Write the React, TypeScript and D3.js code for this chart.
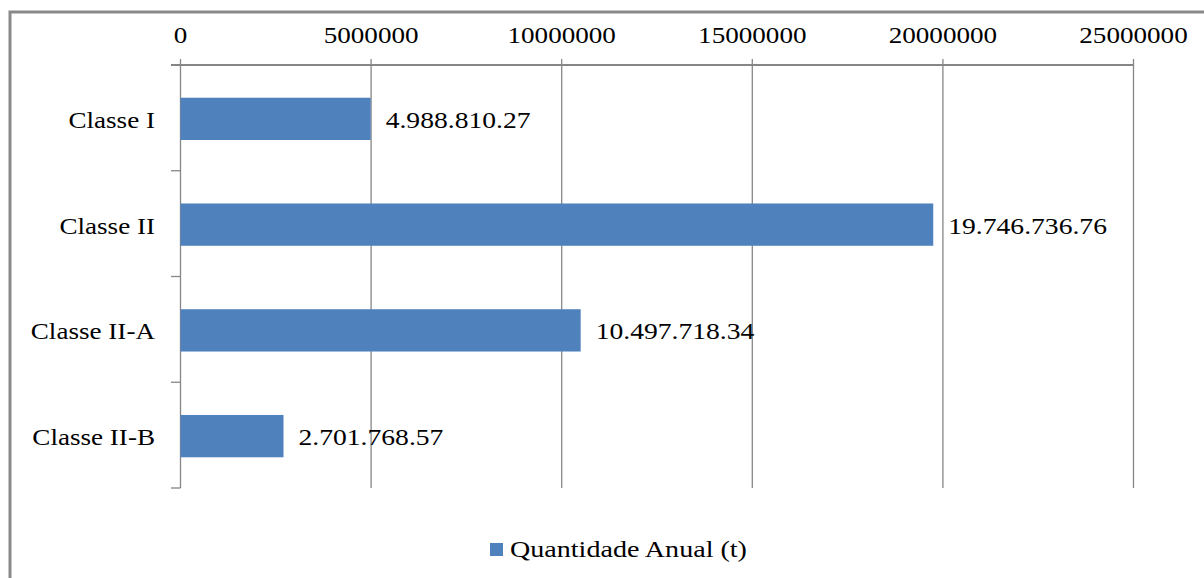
import React from "react";
import * as d3 from "d3";

const categories = ["Classe I", "Classe II", "Classe II-A", "Classe II-B"];
const values = [4988810.27, 19746736.76, 10497718.34, 2701768.57];
const valueLabels = ["4.988.810.27", "19.746.736.76", "10.497.718.34", "2.701.768.57"];
const xTicks = [0, 5000000, 10000000, 15000000, 20000000, 25000000];
const seriesName = "Quantidade Anual (t)";

function T({ x, y, anchor, sx = 1.13, children }: { x: number; y: number; anchor?: string; sx?: number; children: React.ReactNode }) {
  return (
    <text
      transform={`translate(${x},${y}) scale(${sx},1)`}
      textAnchor={anchor || "start"}
      style={{ fontFamily: '"Liberation Serif", "Times New Roman", serif', fontSize: 24 }}
      fill="#000"
    >
      {children}
    </text>
  );
}

export default function App() {
  const W = 1204, H = 578;
  const left = 180.5, right = 1133.5, top = 65, bottom = 488;
  const x = d3.scaleLinear().domain([0, 25000000]).range([left, right]);
  const y = d3.scaleBand<string>().domain(categories).range([top + 1, bottom + 1]).paddingInner(0.6).paddingOuter(0.3);
  const band = (bottom - top) / categories.length;
  const grid = "#868686";
  return (
    <svg width={W} height={H} style={{ position: "absolute", left: 0, top: 0, background: "#fff" }}>
      <rect x={10} y={12} width={1300} height={700} fill="#fff" stroke="#898989" strokeWidth={3} />
      {xTicks.map((t) => (
        <g key={t}>
          <line x1={x(t)} x2={x(t)} y1={59} y2={t === 0 ? top : bottom} stroke={grid} strokeWidth={1.3} />
          <T x={x(t)} y={43} anchor="middle">{t}</T>
        </g>
      ))}
      <line x1={171} x2={right} y1={top} y2={top} stroke={grid} strokeWidth={2} />
      <line x1={left} x2={left} y1={top} y2={bottom} stroke={grid} strokeWidth={1.3} />
      {d3.range(categories.length + 1).map((i) => (
        <line key={i} x1={171} x2={left} y1={top + i * band} y2={top + i * band} stroke={grid} strokeWidth={1.3} />
      ))}
      {categories.map((c, i) => {
        const yy = y(c)!;
        const h = y.bandwidth();
        return (
          <g key={c}>
            <rect x={x(0)} y={yy} width={x(values[i]) - x(0)} height={h} fill="#4F81BD" />
            <T x={155} y={yy + h / 2 + 9} anchor="end">{c}</T>
            <T x={x(values[i]) + 15} y={yy + h / 2 + 9} sx={1.15}>{valueLabels[i]}</T>
          </g>
        );
      })}
      <rect x={490} y={543} width={13} height={13} fill="#4F81BD" />
      <T x={510} y={557} sx={1.17}>{seriesName}</T>
    </svg>
  );
}
